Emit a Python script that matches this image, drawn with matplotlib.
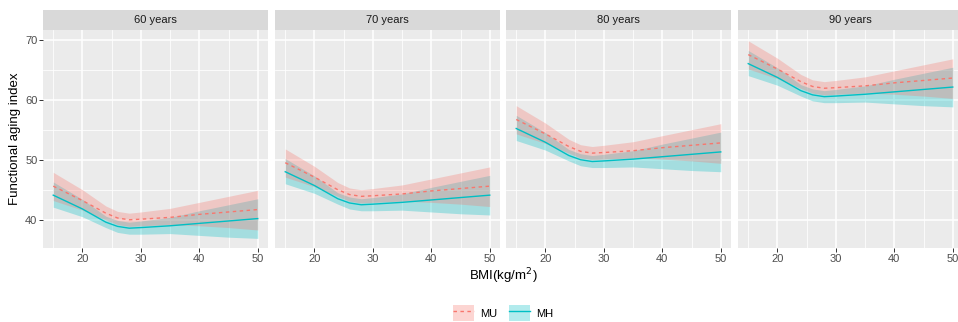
import matplotlib.pyplot as plt
from matplotlib.patches import Patch
from matplotlib.lines import Line2D
from matplotlib.ticker import MultipleLocator

plt.rcParams['font.family'] = ['Liberation Sans', 'DejaVu Sans']

# BMI grid the fitted curves are sampled on
bmi = [15, 20, 24, 26, 28, 30, 35, 40, 45, 50]
ages = ['60 years', '70 years', '80 years', '90 years']

# MU: fitted index and 95% band, one row per age panel
mu_fit = [
    [45.6, 43.2, 41.1, 40.3, 40.0, 40.1, 40.4, 40.9, 41.3, 41.7],
    [49.5, 47.1, 45.0, 44.2, 43.9, 44.0, 44.3, 44.8, 45.2, 45.6],
    [56.7, 54.3, 52.2, 51.4, 51.1, 51.2, 51.5, 52.0, 52.4, 52.8],
    [67.5, 65.1, 63.0, 62.2, 61.9, 62.0, 62.3, 62.8, 63.2, 63.6],
]
mu_lo = [
    [43.2, 41.6, 40.0, 39.2, 38.9, 39.0, 39.2, 39.0, 38.7, 38.3],
    [47.1, 45.5, 43.9, 43.1, 42.8, 42.9, 43.1, 42.9, 42.6, 42.2],
    [54.3, 52.7, 51.1, 50.3, 50.0, 50.1, 50.3, 50.1, 49.8, 49.4],
    [65.1, 63.5, 61.9, 61.1, 60.8, 60.9, 61.1, 60.9, 60.6, 60.2],
]
mu_hi = [
    [47.9, 45.0, 42.3, 41.4, 41.1, 41.3, 41.9, 42.9, 43.9, 44.9],
    [51.8, 48.9, 46.2, 45.3, 45.0, 45.2, 45.8, 46.8, 47.8, 48.8],
    [59.0, 56.1, 53.4, 52.5, 52.2, 52.4, 53.0, 54.0, 55.0, 56.0],
    [69.8, 66.9, 64.2, 63.3, 63.0, 63.2, 63.8, 64.8, 65.8, 66.8],
]

# MH: fitted index and 95% band
mh_fit = [
    [44.1, 41.8, 39.6, 38.9, 38.6, 38.7, 39.0, 39.4, 39.8, 40.2],
    [48.0, 45.7, 43.5, 42.8, 42.5, 42.6, 42.9, 43.3, 43.7, 44.1],
    [55.2, 52.9, 50.7, 50.0, 49.7, 49.8, 50.1, 50.5, 50.9, 51.3],
    [66.0, 63.7, 61.5, 60.8, 60.5, 60.6, 60.9, 61.3, 61.7, 62.1],
]
mh_lo = [
    [42.1, 40.5, 38.7, 37.9, 37.6, 37.6, 37.7, 37.4, 37.1, 36.9],
    [46.0, 44.4, 42.6, 41.8, 41.5, 41.5, 41.6, 41.3, 41.0, 40.8],
    [53.2, 51.6, 49.8, 49.0, 48.7, 48.7, 48.8, 48.5, 48.2, 48.0],
    [64.0, 62.4, 60.6, 59.8, 59.5, 59.5, 59.6, 59.3, 59.0, 58.8],
]
mh_hi = [
    [46.3, 43.4, 40.6, 39.9, 39.6, 39.8, 40.4, 41.5, 42.5, 43.5],
    [50.2, 47.3, 44.5, 43.8, 43.5, 43.7, 44.3, 45.4, 46.4, 47.4],
    [57.4, 54.5, 51.7, 51.0, 50.7, 50.9, 51.5, 52.6, 53.6, 54.6],
    [68.2, 65.3, 62.5, 61.8, 61.5, 61.7, 62.3, 63.4, 64.4, 65.4],
]

MU_COL = '#F8766D'
MH_COL = '#00BFC4'
BAND_ALPHA = 0.3

W, H = 958, 322
fig = plt.figure(figsize=(W / 100, H / 100), dpi=100)

panel_left = [43, 275, 506, 738]
panel_w = 225
plot_top, plot_bot = 30, 248
strip_h = 20


def px_box(x0, y0, w, h):
    return [x0 / W, 1 - (y0 + h) / H, w / W, h / H]


axes = []
for i, age in enumerate(ages):
    ax = fig.add_axes(px_box(panel_left[i], plot_top, panel_w, plot_bot - plot_top))
    ax.set_facecolor('#EBEBEB')
    for s in ax.spines.values():
        s.set_visible(False)

    # MH band first so the overlap blends to grey
    ax.fill_between(bmi, mh_lo[i], mh_hi[i], color=MH_COL, alpha=BAND_ALPHA, lw=0, zorder=2)
    ax.fill_between(bmi, mu_lo[i], mu_hi[i], color=MU_COL, alpha=BAND_ALPHA, lw=0, zorder=2)
    ax.plot(bmi, mh_fit[i], color=MH_COL, lw=1.0, zorder=3)
    ax.plot(bmi, mu_fit[i], color=MU_COL, lw=1.0, ls=(0, (2.5, 2.5)), zorder=3)

    ax.set_xlim(13.25, 51.75)
    ax.set_ylim(35.3, 71.6)
    ax.xaxis.set_major_locator(MultipleLocator(10))
    ax.xaxis.set_minor_locator(MultipleLocator(5))
    ax.yaxis.set_major_locator(MultipleLocator(10))
    ax.yaxis.set_minor_locator(MultipleLocator(5))
    ax.set_xticks([20, 30, 40, 50])
    ax.grid(which='major', color='white', lw=1.1, zorder=1)
    ax.grid(which='minor', color='white', lw=0.55, zorder=1)
    ax.set_axisbelow(True)
    ax.tick_params(which='major', length=3, width=0.7, color='#333333',
                   labelsize=8, labelcolor='#4D4D4D', pad=1)
    ax.tick_params(which='minor', length=0)
    if i > 0:
        ax.tick_params(axis='y', which='major', length=0, labelleft=False)

    # facet strip
    sax = fig.add_axes(px_box(panel_left[i], plot_top - strip_h, panel_w, strip_h))
    sax.set_facecolor('#D9D9D9')
    sax.set_xticks([])
    sax.set_yticks([])
    for s in sax.spines.values():
        s.set_visible(False)
    sax.text(0.5, 0.5, age, ha='center', va='center', fontsize=8, color='#1A1A1A',
             transform=sax.transAxes)
    axes.append(ax)

fig.text(15 / W, 1 - 139 / H, 'Functional aging index', rotation=90,
         ha='center', va='center', fontsize=9.5, color='black')
fig.text(503 / W, 1 - 276 / H, 'BMI(kg/m$^2$)', ha='center', va='center',
         fontsize=9.5, color='black')

handles = [
    (Patch(facecolor=MU_COL, alpha=BAND_ALPHA, lw=0),
     Line2D([], [], color=MU_COL, lw=1.0, ls=(0, (2.5, 2.5)))),
    (Patch(facecolor=MH_COL, alpha=BAND_ALPHA, lw=0),
     Line2D([], [], color=MH_COL, lw=1.0)),
]
fig.legend(handles, ['MU', 'MH'], loc='center', bbox_to_anchor=(503 / W, 1 - 313 / H),
           ncol=2, frameon=False, fontsize=8, handlelength=1.9, handleheight=1.9,
           handletextpad=0.6, columnspacing=1.0, borderpad=0)

fig.savefig('out.png', dpi=100)
